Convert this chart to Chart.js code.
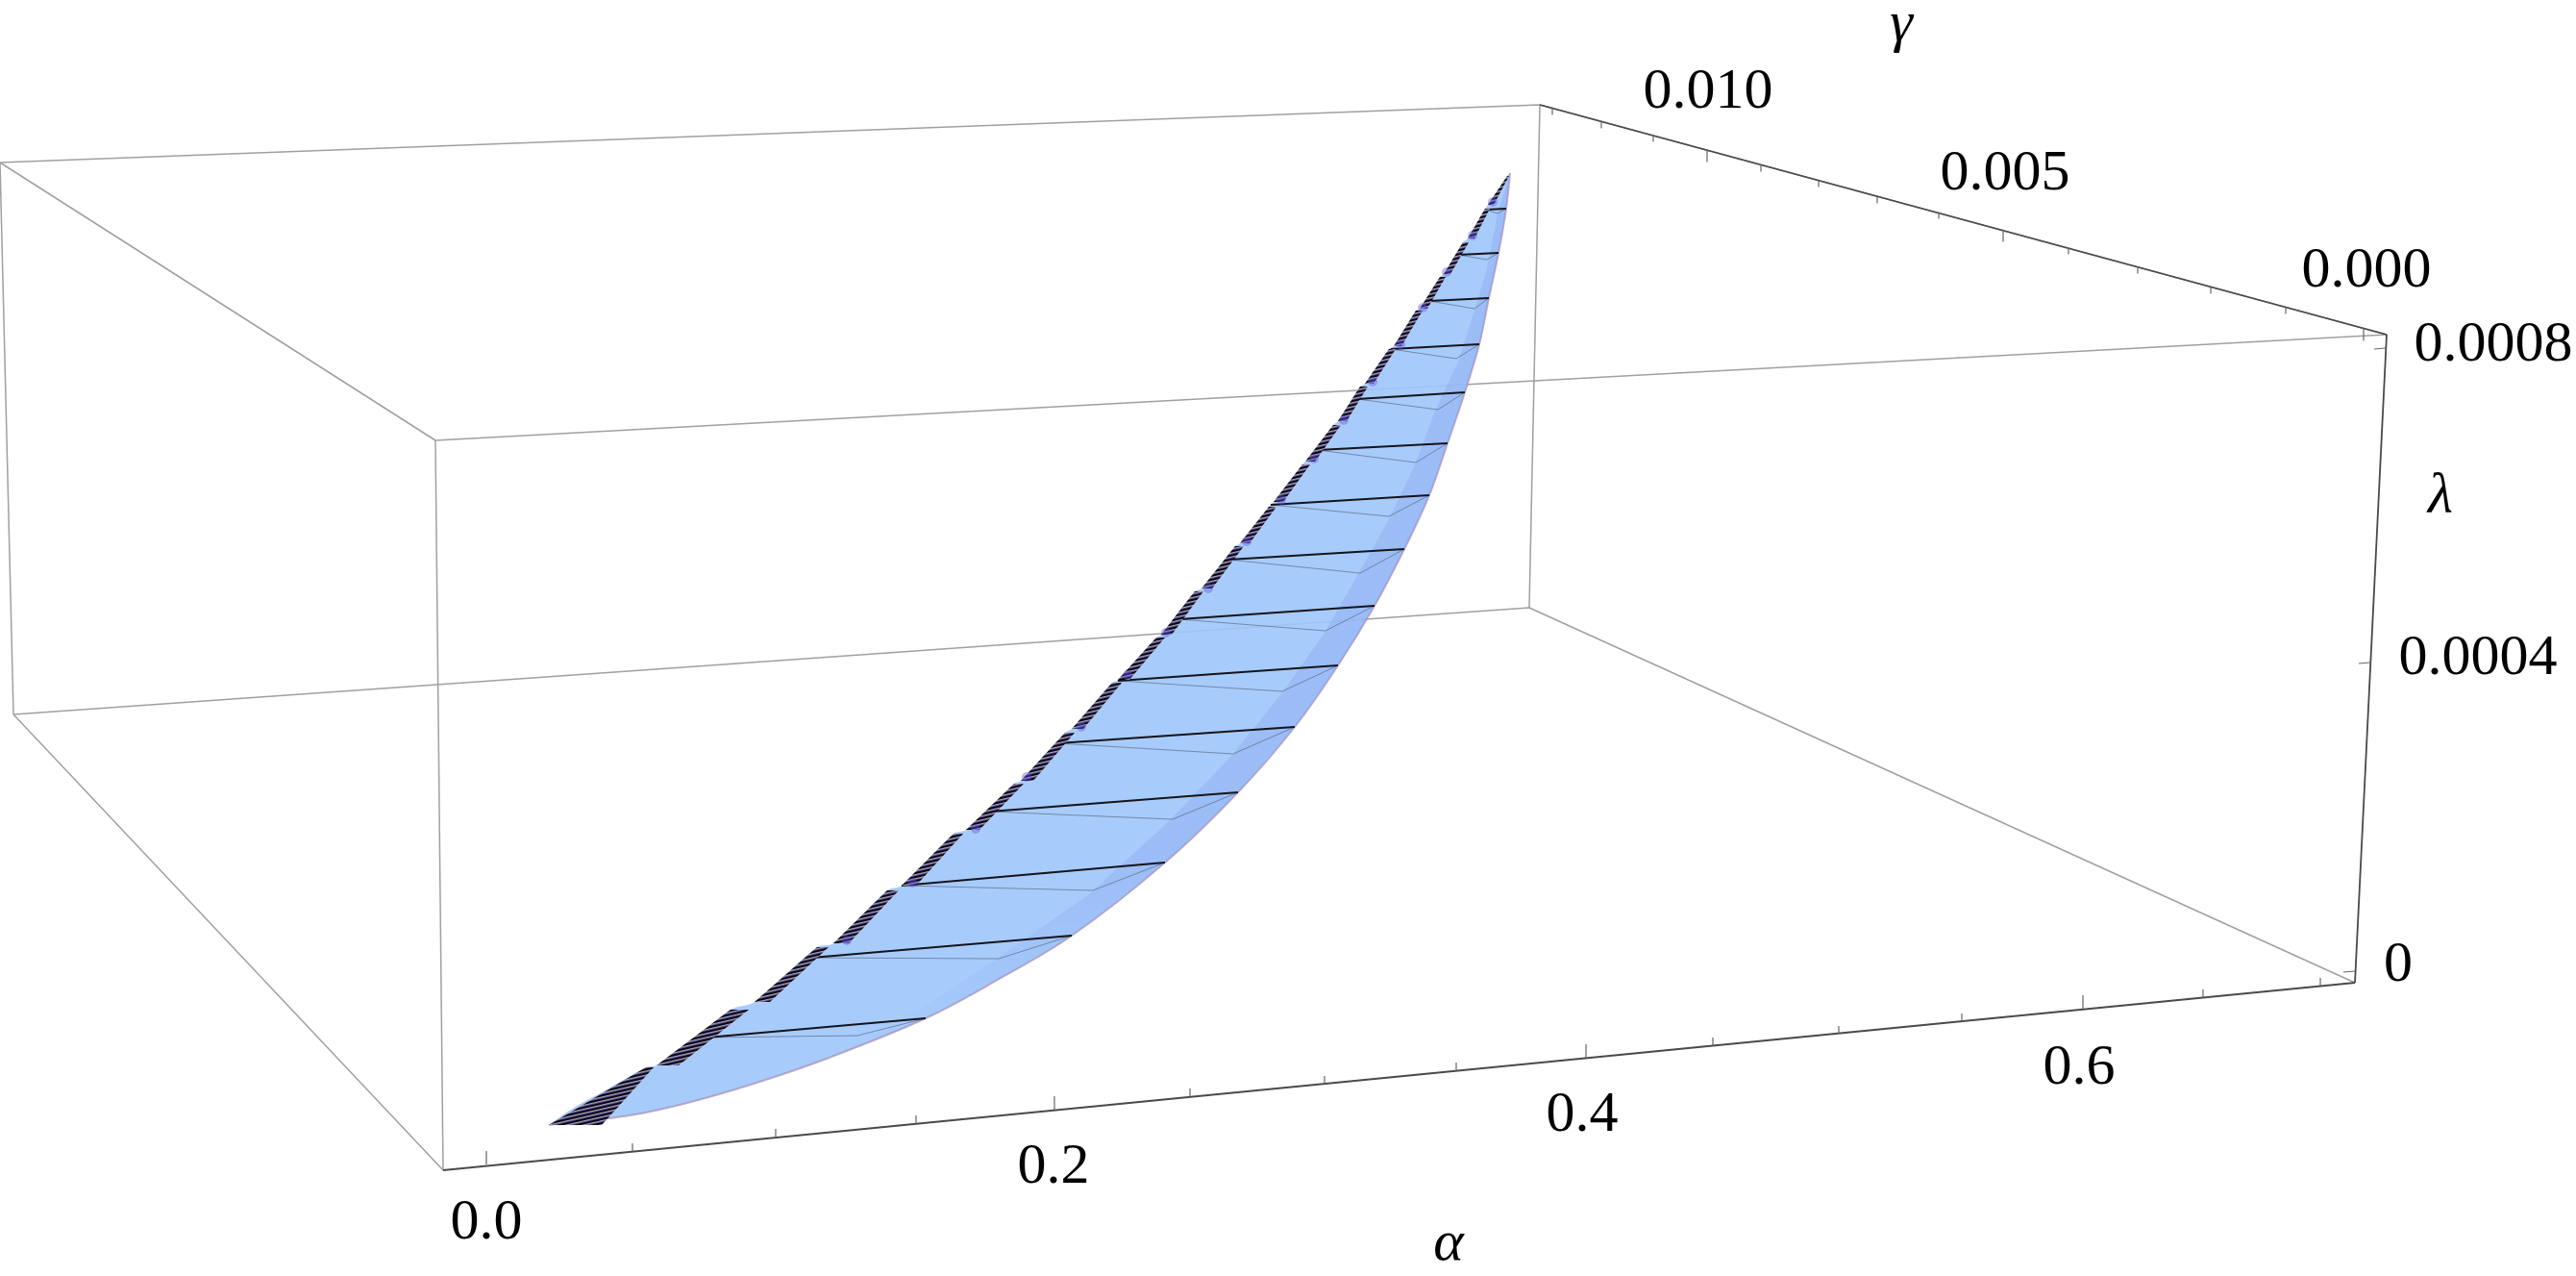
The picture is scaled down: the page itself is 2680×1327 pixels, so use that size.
<!DOCTYPE html>
<html>
<head>
<meta charset="utf-8">
<title>Stability region</title>
<script src="https://cdn.jsdelivr.net/npm/chart.js@4"></script>
<style>
    html, body { margin: 0; padding: 0; background: #fff; }
    canvas { display: block; }
</style>
</head>
<body>
<canvas id="chart" width="2680" height="1327"></canvas>
<script>
const boxFar = [[0, 169], [1602, 109], [2483, 348], [453, 458], [0, 169]];
const boxBack = [[14, 743], [1591, 632], [2450, 1022]];
const boxLeft = [[0, 169], [14, 743], [461, 1217]];
const boxPost = [[1602, 109], [1591, 632]];
const boxFront = [[453, 458], [461, 1217]];
const gammaAxisLine = [[1602, 109], [2483, 348]];
const alphaAxisLine = [[461, 1217], [2450, 1022]];
const lambdaAxisLine = [[2450, 1022], [2483, 348]];

const alphaTickValues = [0, 0.05, 0.1, 0.15, 0.2, 0.25, 0.3, 0.35, 0.4, 0.45, 0.5, 0.55, 0.6, 0.65, 0.7];
const alphaTickX = [506, 658, 807, 953, 1097, 1238, 1378, 1515, 1650, 1782, 1913, 2041, 2167, 2292, 2414];
const alphaTickY = [1211, 1197, 1182, 1168, 1154, 1140, 1127, 1113, 1100, 1087, 1075, 1062, 1049, 1037, 1025];

const gammaTickValues = [0.013, 0.012, 0.011, 0.01, 0.009, 0.008, 0.007, 0.006, 0.005, 0.004, 0.003, 0.002, 0.001, 0];
const gammaTickX = [1615, 1666, 1720, 1776, 1832, 1892, 1953, 2017, 2084, 2152, 2224, 2300, 2378, 2459];
const gammaTickY = [113, 127, 141, 156, 172, 188, 205, 221, 239, 258, 278, 299, 320, 342];

const lambdaTickX = [2450, 2466, 2482];
const lambdaTickY = [1010, 689, 362];

// Surface outline, bottom to top
const surfaceLeftEdge = [[571, 1170], [597, 1152], [628, 1135], [672, 1110], [683, 1108], [720, 1082], [760, 1050],
    [785, 1042], [850, 985], [867, 981], [923, 926], [938, 921], [992, 867], [1005, 863], [1055, 815], [1062, 812],
    [1108, 762], [1115, 758], [1157, 710], [1163, 707], [1203, 663], [1208, 660], [1243, 615], [1250, 612],
    [1285, 568], [1290, 565], [1320, 527], [1325, 522], [1355, 483], [1358, 480], [1387, 442], [1392, 438],
    [1415, 402], [1420, 399], [1445, 363], [1450, 360], [1473, 323], [1477, 321], [1498, 288], [1502, 285],
    [1522, 252], [1527, 248], [1545, 217], [1548, 213], [1568, 183], [1571, 180]];
const surfaceRightEdge = [[1571, 180], [1567, 217], [1559, 263], [1549, 310], [1539, 358], [1524, 408], [1506, 461],
    [1487, 515], [1461, 571], [1430, 630], [1392, 692], [1347, 756], [1288, 824], [1212, 897], [1115, 973],
    [1036, 1020], [963, 1059], [857, 1102], [784, 1127], [715, 1147], [655, 1160], [571, 1170]];
const creaseEdge = [[1571, 180], [1558, 222], [1547, 279], [1537, 313], [1517, 376], [1493, 427], [1473, 481],
    [1445, 540], [1413, 597], [1378, 658], [1335, 719], [1283, 784], [1217, 853], [1133, 930], [1037, 997],
    [961, 1047], [892, 1083]];

// Grid lines on the surface: black cut from left to right, grey return through the crease
const meshLeft = [[1546, 218], [1517, 265], [1487, 313], [1447, 363], [1412, 415], [1371, 468], [1322, 525], [1278, 582],
    [1227, 644], [1163, 708], [1100, 773], [1030, 844], [938, 921], [844, 996], [735, 1079]];
const meshRight = [[1567, 217], [1559, 263], [1549, 310], [1539, 358], [1524, 408], [1506, 461], [1487, 515], [1461, 571],
    [1430, 630], [1392, 692], [1347, 756], [1288, 824], [1212, 897], [1115, 973], [963, 1059]];
const meshCrease = [[1558, 222], [1547, 270], [1534, 321], [1515, 373], [1496, 426], [1473, 481], [1445, 537], [1415, 596],
    [1379, 656], [1334, 719], [1283, 784], [1220, 852], [1137, 926], [1039, 997], [892, 1077]];

// Hatched steps on the left edge: lower end, upper end, band width at each end
const hatchLow = [[571, 1170], [683, 1108], [785, 1042], [867, 981], [938, 921], [1005, 863], [1062, 812], [1115, 758],
    [1163, 707], [1208, 660], [1250, 612], [1290, 565], [1325, 522], [1358, 480], [1392, 438], [1420, 399],
    [1450, 360], [1477, 321], [1502, 285], [1527, 248], [1548, 213]];
const hatchHigh = [[672, 1110], [760, 1050], [850, 985], [923, 926], [992, 867], [1055, 815], [1108, 762], [1157, 710],
    [1203, 663], [1243, 615], [1285, 568], [1320, 527], [1355, 483], [1387, 442], [1415, 402], [1445, 363],
    [1473, 323], [1498, 288], [1522, 252], [1545, 217], [1568, 183]];
const hatchWidthLow = [55, 23, 16, 16, 15, 14, 13, 12, 12, 11, 11, 10, 10, 10, 9, 9, 8, 8, 7, 7, 6];
const hatchWidthHigh = [8, 19, 12, 12, 10, 10, 10, 10, 9, 9, 9, 8, 8, 8, 8, 7, 7, 6, 6, 5, 2];

// Purple smudges at the foot of each hatched step
const smudges = [[881, 978], [949, 918], [1015, 862], [1068, 808], [1125, 756], [1173, 702], [1213, 658], [1257, 612],
    [1297, 563], [1333, 520], [1367, 477], [1398, 437], [1428, 397], [1457, 358], [1480, 320], [1505, 283],
    [1532, 245], [1553, 210]];

const tickLabels = ['0.0', '0.2', '0.4', '0.6', '0.010', '0.005', '0.000', '0', '0.0004', '0.0008'];
const tickLabelX = [506, 1096, 1646, 2163, 1777, 2086, 2462, 2495, 2578, 2594];
const tickLabelY = [1288, 1230, 1176, 1127, 112, 197, 298, 1020, 701, 375];
const axisLabels = ['α', 'γ', 'λ'];
const axisLabelX = [1507, 1978, 2539];
const axisLabelY = [1310, 42, 533];

const LINE_DARK = '#4a4a4a';
const LINE_LIGHT = '#a0a0a0';
const EDGE_TENSION = 0.35;

function toPoints(pairs) {
    return pairs.map(p => ({ x: p[0], y: p[1] }));
}

// One dataset drawing many separate strokes, a NaN point breaks the line
function strokes(list) {
    const pts = [];
    list.forEach(s => {
        s.forEach(p => pts.push({ x: p[0], y: p[1] }));
        pts.push({ x: NaN, y: NaN });
    });
    return pts;
}

function line(label, data, color, width) {
    return { label: label, data: data, borderColor: color, borderWidth: width, pointRadius: 0, showLine: true, fill: false, spanGaps: false };
}

function area(label, data, color) {
    return { label: label, data: data, borderWidth: 0, borderColor: 'transparent', backgroundColor: color, pointRadius: 0, showLine: true, fill: 'shape' };
}

function makeHatchPattern(ctx) {
    const tile = document.createElement('canvas');
    tile.width = 4;
    tile.height = 4;
    const t = tile.getContext('2d');
    t.fillStyle = '#a9a0cc';
    t.fillRect(0, 0, 4, 4);
    t.fillStyle = '#5c5388';
    t.fillRect(0, 1, 4, 1);
    t.fillStyle = '#08080e';
    t.fillRect(0, 2, 4, 2);
    const pattern = ctx.createPattern(tile, 'repeat');
    pattern.setTransform(new DOMMatrix().rotate(-13));
    return pattern;
}

// Text goes through the scales as well
const labelPlugin = {
    id: 'labelPlugin',
    afterDatasetsDraw(chart) {
        const ctx = chart.ctx;
        const xs = chart.scales.x;
        const ys = chart.scales.y;
        ctx.save();
        ctx.fillStyle = '#000';
        ctx.textAlign = 'center';
        ctx.textBaseline = 'alphabetic';
        ctx.font = '60px "Liberation Serif", "Times New Roman", serif';
        tickLabels.forEach((t, i) => {
            ctx.fillText(t, xs.getPixelForValue(tickLabelX[i]), ys.getPixelForValue(tickLabelY[i]));
        });
        ctx.font = 'italic 60px "Liberation Serif", "Times New Roman", serif';
        axisLabels.forEach((t, i) => {
            ctx.fillText(t, xs.getPixelForValue(axisLabelX[i]), ys.getPixelForValue(axisLabelY[i]));
        });
        ctx.restore();
    }
};

function buildDatasets(ctx) {
    const sets = [];

    // box behind the translucent surface
    sets.push(line('box far', toPoints(boxFar), LINE_LIGHT, 1.5));
    sets.push(line('box back', toPoints(boxBack), LINE_LIGHT, 1.5));
    sets.push(line('box left', toPoints(boxLeft), LINE_LIGHT, 1.5));
    sets.push(line('box post', toPoints(boxPost), LINE_LIGHT, 1.5));
    sets.push(line('box front', toPoints(boxFront), LINE_LIGHT, 1.5));

    // surface, the right side is a smooth curve
    const surface = area('surface', toPoints(surfaceLeftEdge.concat(surfaceRightEdge)), 'rgba(157, 199, 251, 0.9)');
    surface.tension = EDGE_TENSION;
    sets.push(surface);

    // darker band along the right edge, it fades out towards the bottom
    const shade = ctx.createLinearGradient(0, 1090, 0, 900);
    shade.addColorStop(0, 'rgba(138, 165, 240, 0)');
    shade.addColorStop(1, 'rgba(138, 165, 240, 0.38)');
    const rightEdgeUpper = surfaceRightEdge.slice(0, surfaceRightEdge.findIndex(p => p[0] === 857) + 1);
    sets.push(area('crease band', toPoints(rightEdgeUpper.concat(creaseEdge.slice().reverse())), shade));
    const edge = line('right edge', toPoints(surfaceRightEdge), 'rgba(170, 145, 180, 0.75)', 2);
    edge.tension = EDGE_TENSION;
    sets.push(edge);

    // grey return lines, then the black cuts
    const greyLines = meshLeft.map((p, i) => [p, meshCrease[i], meshRight[i]]);
    sets.push(line('mesh crease', strokes(greyLines), 'rgba(85, 100, 125, 0.65)', 1));
    const blackLines = meshLeft.map((p, i) => [p, meshRight[i]]);
    sets.push(line('mesh', strokes(blackLines), '#14141c', 1.8));

    // hatched steps
    const hatch = makeHatchPattern(ctx);
    hatchLow.forEach((low, i) => {
        const high = hatchHigh[i];
        sets.push(area('hatch ' + i, toPoints([
            low, high,
            [high[0] + hatchWidthHigh[i], high[1]],
            [low[0] + hatchWidthLow[i], low[1]],
            low
        ]), hatch));
    });
    sets.push({
        label: 'smudges', data: toPoints(smudges), showLine: false, pointRadius: 5, pointBorderWidth: 0,
        pointBackgroundColor: 'rgba(95, 85, 225, 0.4)'
    });

    // axes and ticks on top
    sets.push(line('gamma axis', toPoints(gammaAxisLine), LINE_DARK, 1.6));
    sets.push(line('alpha axis', toPoints(alphaAxisLine), LINE_DARK, 2));
    sets.push(line('lambda axis', toPoints(lambdaAxisLine), LINE_DARK, 1.8));

    const alphaStrokes = alphaTickValues.map((v, i) => {
        const len = Math.round(v * 100) % 20 === 0 ? 14 : 8;
        return [[alphaTickX[i], alphaTickY[i]], [alphaTickX[i], alphaTickY[i] - len]];
    });
    const gammaStrokes = gammaTickValues.map((v, i) => {
        const len = Math.round(v * 1000) % 5 === 0 ? 12 : 6;
        return [[gammaTickX[i], gammaTickY[i]], [gammaTickX[i], gammaTickY[i] + len]];
    });
    const lambdaStrokes = lambdaTickX.map((x, i) => [[x, lambdaTickY[i]], [x - 12, lambdaTickY[i] + 1]]);
    sets.push(line('alpha ticks', strokes(alphaStrokes), '#666', 1.2));
    sets.push(line('gamma ticks', strokes(gammaStrokes), '#666', 1.2));
    sets.push(line('lambda ticks', strokes(lambdaStrokes), '#666', 1.2));

    // first dataset in the list is drawn last by Chart.js
    return sets.reverse();
}

document.addEventListener('DOMContentLoaded', function() {
    const canvas = document.getElementById('chart');
    const ctx = canvas.getContext('2d');
    new Chart(ctx, {
        type: 'scatter',
        data: { datasets: buildDatasets(ctx) },
        options: {
            responsive: false,
            animation: false,
            // no inset for point overflow, the scales must fill the whole canvas
            layout: { padding: 0, autoPadding: false },
            elements: { line: { tension: 0, borderCapStyle: 'butt', borderJoinStyle: 'round' } },
            plugins: { legend: { display: false }, tooltip: { enabled: false }, title: { display: false } },
            scales: {
                x: { type: 'linear', min: 0, max: 2680, display: false },
                y: { type: 'linear', min: 0, max: 1327, reverse: true, display: false }
            }
        },
        plugins: [labelPlugin]
    });
});
</script>
</body>
</html>
